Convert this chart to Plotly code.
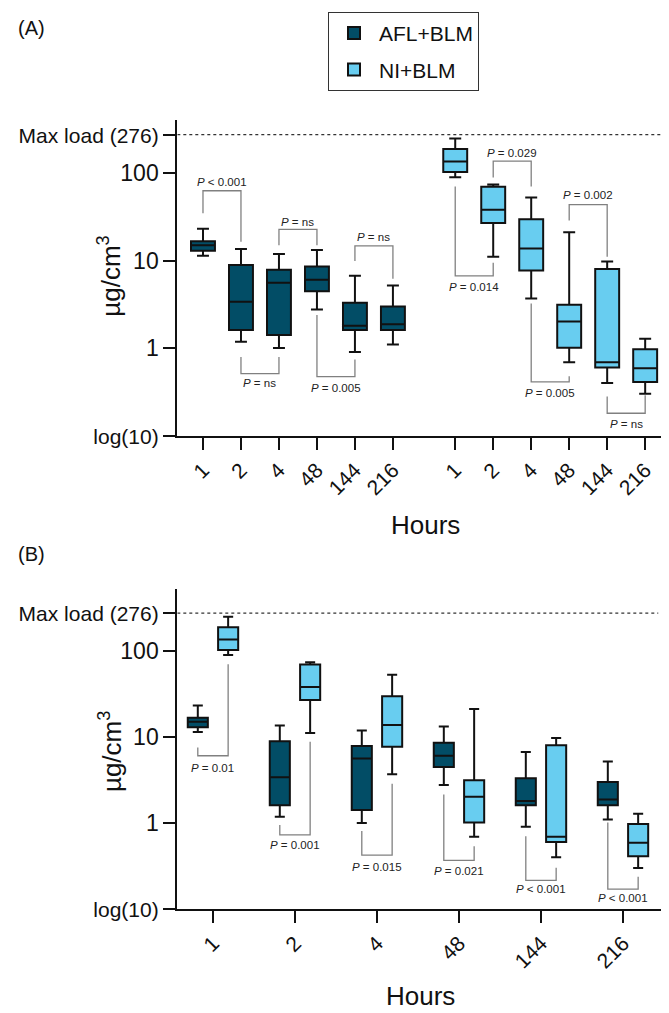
import numpy as np
import plotly.graph_objects as go

# ---------------- data ----------------
hours = ["1", "2", "4", "48", "144", "216"]

afl_upper = [23.2, 13.6, 11.9, 13.2, 6.7, 5.2]
afl_q3 = [16.7, 8.9, 7.85, 8.55, 3.3, 3.0]
afl_median = [15.0, 3.4, 5.6, 6.05, 1.8, 1.87]
afl_q1 = [13.0, 1.61, 1.41, 4.46, 1.61, 1.61]
afl_lower = [11.4, 1.18, 1.0, 2.77, 0.90, 1.10]

ni_upper = [250, 74, 52.8, 21.1, 9.75, 1.28]
ni_q3 = [189, 69.8, 29.8, 3.13, 8.0, 0.97]
ni_median = [136, 38.1, 13.8, 2.01, 0.69, 0.59]
ni_q1 = [103, 26.9, 7.71, 1.01, 0.60, 0.41]
ni_lower = [90, 11.1, 3.69, 0.69, 0.40, 0.30]

max_load = 276
y_tickvals = [0.1, 1, 10, 100, max_load]

# Panel A comparisons: (group_left, idx_left, group_right, idx_right, left_start, right_start, bar, text_y, label)
pA = [
    ("afl", 0, "afl", 1, 34.8, 16.4, 63.0, 79.6, "< 0.001"),
    ("afl", 2, "afl", 3, 15.0, 15.0, 22.8, 27.6, "= ns"),
    ("afl", 1, "afl", 2, 0.79, 0.79, 0.51, 0.40, "= ns"),
    ("afl", 3, "afl", 4, 2.39, 0.74, 0.473, 0.346, "= 0.005"),
    ("afl", 4, "afl", 5, 9.93, 6.21, 14.76, 18.7, "= ns"),
    ("ni", 0, "ni", 1, 70.3, 9.48, 6.71, 4.95, "= 0.014"),
    ("ni", 1, "ni", 2, 89.0, 70.3, 137.4, 170.6, "= 0.029"),
    ("ni", 3, "ni", 4, 28.8, 11.1, 43.8, 56.2, "= 0.002"),
    ("ni", 2, "ni", 3, 3.24, 0.476, 0.412, 0.309, "= 0.005"),
    ("ni", 4, "ni", 5, 0.279, 0.290, 0.180, 0.137, "= ns"),
]
# Panel B comparisons at each hour: (idx, afl_start, ni_start, bar, text_y, label)
pB = [
    (0, 7.55, 70.3, 6.05, 4.34, "= 0.01"),
    (1, 0.948, 8.77, 0.728, 0.550, "= 0.001"),
    (2, 0.804, 2.86, 0.422, 0.307, "= 0.015"),
    (3, 2.14, 0.536, 0.366, 0.276, "= 0.021"),
    (4, 0.698, 0.301, 0.215, 0.170, "< 0.001"),
    (5, 1.01, 0.236, 0.170, 0.134, "< 0.001"),
]

# ---------------- styling ----------------
FONT = "Arial, Liberation Sans, sans-serif"
DARK = "#024d66"
LIGHT = "#68cdf0"
W, H = 669, 1013

posA_afl = list(np.arange(6, dtype=float))
posA_ni = list(np.arange(6, dtype=float) + 6.64)
posB = np.arange(6, dtype=float)
posB_afl = list(posB - 0.185)
posB_ni = list(posB + 0.185)

fig = go.Figure()

def add_box(x, q1, med, q3, lo, hi, color, name, xa, ya, width, show, group):
    fig.add_trace(go.Box(
        x=x, q1=q1, median=med, q3=q3, lowerfence=lo, upperfence=hi,
        width=width, whiskerwidth=0.5, fillcolor=color,
        line=dict(color="#111111", width=2), name=name,
        showlegend=show, legendgroup=group, hoverinfo="skip",
        xaxis=xa, yaxis=ya, boxpoints=False,
    ))

add_box(posA_afl, afl_q1, afl_median, afl_q3, afl_lower, afl_upper, DARK, "AFL+BLM", "x", "y", 0.63, True, "g1")
add_box(posA_ni, ni_q1, ni_median, ni_q3, ni_lower, ni_upper, LIGHT, "NI+BLM", "x", "y", 0.63, True, "g2")
add_box(posB_afl, afl_q1, afl_median, afl_q3, afl_lower, afl_upper, DARK, "AFL+BLM", "x2", "y2", 0.245, False, "g1")
add_box(posB_ni, ni_q1, ni_median, ni_q3, ni_lower, ni_upper, LIGHT, "NI+BLM", "x2", "y2", 0.245, False, "g2")

xA_range = [-0.676, 12.32]
xB_range = [-0.435, 5.46]

# max load dotted lines
for xa, ya, x0, x1 in (("x", "y", xA_range[0], 12.18), ("x2", "y2", xB_range[0], 5.43)):
    fig.add_trace(go.Scatter(
        x=[x0, x1], y=[max_load, max_load],
        mode="lines", line=dict(color="#333333", width=1.3, dash="dot"),
        showlegend=False, hoverinfo="skip", xaxis=xa, yaxis=ya))

annotations = []
BR = dict(color="#808080", width=1.3)

def bracket(xl, xr, ls, rs, bar, ty, label, xa, ya):
    fig.add_trace(go.Scatter(
        x=[xl, xl, xr, xr], y=[ls, bar, bar, rs], mode="lines", line=BR,
        showlegend=False, hoverinfo="skip", xaxis=xa, yaxis=ya))
    annotations.append(dict(
        x=(xl + xr) / 2, y=np.log10(ty), xref=xa, yref=ya,
        xanchor="center", yanchor="middle",
        text="<i>P</i> " + label, showarrow=False,
        font=dict(family=FONT, size=11.5, color="#222222")))

posmap = {"afl": posA_afl, "ni": posA_ni}
for gl, il, gr, ir, ls, rs, bar, ty, lab in pA:
    bracket(posmap[gl][il], posmap[gr][ir], ls, rs, bar, ty, lab, "x", "y")
for i, ls, rs, bar, ty, lab in pB:
    bracket(posB_afl[i], posB_ni[i], ls, rs, bar, ty, lab, "x2", "y2")

small = lambda s: '<span style="font-size:21px">' + s + "</span>"
y_ticktext = [small("log(10)"), "1", "10", "100", small("Max load (276)")]

axis_common = dict(
    showline=True, linecolor="#111111", linewidth=2, ticks="outside",
    ticklen=12, tickwidth=2, tickcolor="#111111", showgrid=False,
    zeroline=False, color="#111111",
)

fig.update_layout(
    width=W, height=H, margin=dict(l=0, r=0, t=0, b=0),
    paper_bgcolor="white", plot_bgcolor="white",
    font=dict(family=FONT, color="#111111"),
    boxmode="overlay",
    xaxis=dict(axis_common, domain=[169.3 / W, 663 / W], range=xA_range,
               tickvals=posA_afl + posA_ni, ticktext=hours + hours,
               tickangle=-45, tickfont=dict(size=21), anchor="y"),
    yaxis=dict(axis_common, domain=[(H - 432.7) / H, (H - 113) / H],
               type="log", range=[-1, 2.612], tickvals=y_tickvals,
               ticktext=y_ticktext, tickfont=dict(size=23), anchor="x"),
    xaxis2=dict(axis_common, domain=[169.3 / W, 652.7 / W], range=xB_range,
                tickvals=list(posB), ticktext=hours,
                tickangle=-45, tickfont=dict(size=21), anchor="y2"),
    yaxis2=dict(axis_common, domain=[(H - 911.7) / H, (H - 588) / H],
                type="log", range=[-1, 2.721], tickvals=y_tickvals,
                ticktext=y_ticktext, tickfont=dict(size=23), anchor="x2"),
    legend=dict(x=320 / W, y=1 - 4 / H, xanchor="left", yanchor="top",
                bordercolor="#333333", borderwidth=1, bgcolor="white",
                font=dict(size=21, family=FONT), tracegroupgap=6,
                itemwidth=40),
)

def lab(x, y, text, size, angle=0):
    return dict(x=x / W, y=1 - y / H, xref="paper", yref="paper",
                xanchor="center", yanchor="middle", text=text,
                textangle=angle, showarrow=False,
                font=dict(size=size, family=FONT, color="#111111"))

annotations += [
    lab(102, 272, "µg/cm<sup>3</sup>", 26, -90),
    lab(102, 753, "µg/cm<sup>3</sup>", 26, -90),
    lab(417, 523, "Hours", 26),
    lab(412, 1000, "Hours", 26),
    lab(23, 20, "(A)", 20),
    lab(23, 553, "(B)", 20),
]
fig.update_layout(annotations=annotations)

fig.write_html("out.html")
